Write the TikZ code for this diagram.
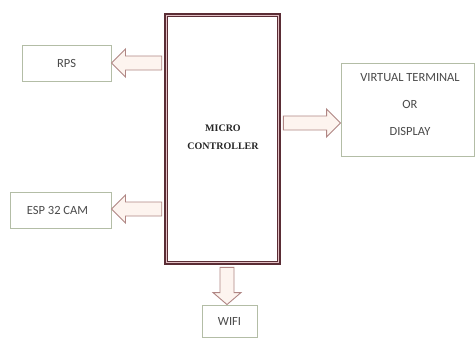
\documentclass[tikz,border=0pt]{standalone}
\usepackage{fontspec}
\setmainfont{Carlito}
\newfontfamily\mcfont{Liberation Serif}
\usetikzlibrary{calc}
\definecolor{mcdark}{HTML}{5A2D35}
\definecolor{mcpink}{HTML}{E3BFC3}
\definecolor{boxline}{HTML}{B3BDA6}
\definecolor{arrline}{HTML}{B08684}
\definecolor{arrfill}{HTML}{FDF4EF}
\definecolor{txt}{HTML}{4A4A4A}
\tikzset{
  smallbox/.style={draw=boxline, line width=0.9pt, fill=white, inner sep=0pt,
    text=txt, font=\fontsize{12.5}{15}\selectfont},
  blockarrow/.style={draw=arrline, line width=0.9pt, fill=arrfill, line join=miter},
}
% horizontal block arrow: #1 start, #2 tip (same y)
\newcommand\hblockarrow[2]{%
  \path[blockarrow] let \p1=(#1), \p2=(#2), \n1={sign(\x2-\x1)} in
    (\x1,\y1+7pt) -- (\x2-\n1*14pt,\y1+7pt) -- (\x2-\n1*14pt,\y1+14pt) -- (\x2,\y2)
    -- (\x2-\n1*14pt,\y1-14pt) -- (\x2-\n1*14pt,\y1-7pt) -- (\x1,\y1-7pt) -- cycle;}
% vertical block arrow: #1 start, #2 tip (same x)
\newcommand\vblockarrow[2]{%
  \path[blockarrow] let \p1=(#1), \p2=(#2), \n1={sign(\y2-\y1)} in
    (\x1+7pt,\y1) -- (\x1+7pt,\y2-\n1*12pt) -- (\x1+14pt,\y2-\n1*12pt) -- (\x2,\y2)
    -- (\x1-14pt,\y2-\n1*12pt) -- (\x1-7pt,\y2-\n1*12pt) -- (\x1-7pt,\y1) -- cycle;}
\begin{document}
\begin{tikzpicture}[x=1pt,y=-1pt]
\useasboundingbox[fill=white] (0,0) rectangle (476,338);
% nodes
\node[smallbox, minimum width=89pt, minimum height=36pt] (rps) at (66.5,63) {RPS};
\node[smallbox, minimum width=101pt, minimum height=36pt] (esp) at (60.5,210) {\hspace*{-6pt}ESP 32 CAM};
\node[smallbox, minimum width=133pt, minimum height=93pt] (vt) at (407.5,109.5) {};
\node[text=txt, font=\fontsize{12.5}{27}\selectfont, align=center, inner sep=0pt] (vtl) at (410,105)
  {VIRTUAL TERMINAL\\OR\\DISPLAY};
\node[smallbox, minimum width=55pt, minimum height=32pt] (wifi) at (229.5,321) {WIFI};
\node[draw=mcdark, line width=3.8pt, fill=white, minimum width=114pt, minimum height=249pt,
  inner sep=0pt] (mc) at (222.5,139) {};
\draw[mcpink, line width=1.4pt] ($(mc.north west)+(2.8,2.8)$) rectangle ($(mc.south east)+(-2.8,-2.8)$);
\draw[mcdark, line width=0.7pt] ($(mc.north west)+(4.2,4.2)$) rectangle ($(mc.south east)+(-4.2,-4.2)$);
\node[font=\mcfont\bfseries\fontsize{10}{18}\selectfont, align=center, inner sep=0pt, text=black!85] (mcl)
  at (223,137) {MICRO\\CONTROLLER};
% connectors
\hblockarrow{$(mc.west |- rps.east)+(-1.9,0)$}{rps.east}
\hblockarrow{$(mc.west |- 0,209)+(-1.9,0)$}{esp.east |- 0,209}
\hblockarrow{$(mc.east |- 0,123)+(1.9,0)$}{vt.west |- 0,123}
\vblockarrow{$(mc.south -| 227,0)+(0,1.9)$}{wifi.north -| 227,0}
\end{tikzpicture}
\end{document}
